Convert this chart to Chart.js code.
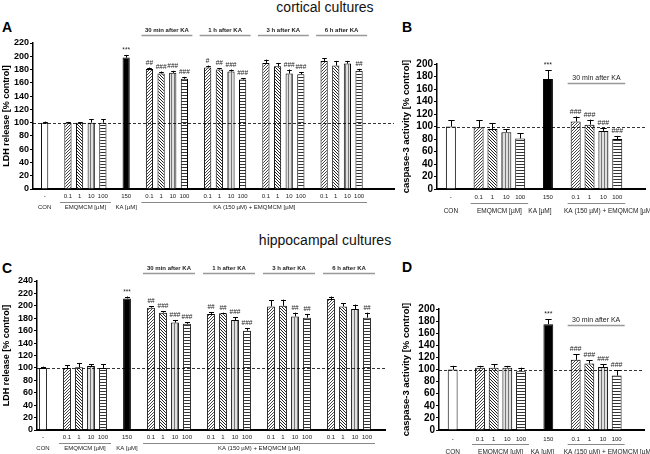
<!DOCTYPE html>
<html>
<head>
<meta charset="utf-8">
<script src="https://cdn.jsdelivr.net/npm/chart.js@4"></script>
<style>
  body { margin: 0; width: 650px; height: 454px; background: #fff; position: relative; overflow: hidden;
         font-family: "Liberation Sans", Arial, sans-serif; }
  canvas { position: absolute; }
  .title { position: absolute; left: 0; width: 650px; text-align: center; font-size: 14px; line-height: 16px; color: #111; }
  .letter { position: absolute; font-size: 14px; line-height: 14px; font-weight: bold; color: #000; }
</style>
</head>
<body>
<div class="title" style="top:-1px">cortical cultures</div>
<div class="title" style="top:232px">hippocampal cultures</div>
<div class="letter" style="left:2px;top:20px">A</div>
<div class="letter" style="left:402px;top:20px">B</div>
<div class="letter" style="left:2px;top:261px">C</div>
<div class="letter" style="left:402px;top:260px">D</div>

<canvas id="panelA" width="400" height="200" style="left:0;top:20px"></canvas>
<canvas id="panelB" width="250" height="200" style="left:400px;top:20px"></canvas>
<canvas id="panelC" width="400" height="204" style="left:0;top:250px"></canvas>
<canvas id="panelD" width="250" height="204" style="left:400px;top:250px"></canvas>

<script>
// ---- data ----
const doses = ["0.1", "1", "10", "100"];
const timesLDH = ["30 min after KA", "1 h after KA", "3 h after KA", "6 h after KA"];
const timesCasp = ["30 min after KA"];

// bar order: CON, EMQMCM 0.1..100, KA 150, then KA + EMQMCM 0.1..100 for each time point
const ldhCortical    = [100, 100, 100, 100, 100, 198, 181, 174, 175, 166, 183, 180, 177, 165, 190, 185, 174, 173, 193, 186, 189, 178];
const ldhCorticalErr = [1.5, 1, 1, 5, 5, 4, 2, 3, 3, 3, 3, 2, 3, 2, 5, 5, 6, 3, 4, 7, 4, 3];
const ldhCorticalSig = ["", "", "", "", "", "***", "##", "###", "###", "###", "#", "##", "###", "###", "", "", "###", "###", "", "", "", "##"];

const caspCortical    = [100, 99, 96, 91, 81, 176, 108, 103, 93, 80];
const caspCorticalErr = [10, 11, 9, 5, 8, 14, 8, 8, 5, 5];
const caspCorticalSig = ["", "", "", "", "", "***", "###", "###", "###", "###"];

const ldhHippo    = [100, 100, 101, 103, 100, 212, 197, 189, 173, 171, 187, 188, 177, 160, 199, 200, 183, 181, 211, 199, 195, 181];
const ldhHippoErr = [2, 4, 7, 3, 6, 3, 2, 2, 4, 3, 3, 1, 5, 4, 10, 10, 6, 6, 4, 5, 7, 8];
const ldhHippoSig = ["", "", "", "", "", "***", "##", "###", "###", "###", "##", "##", "###", "###", "", "", "##", "##", "", "", "", "##"];

const caspHippo    = [100, 103, 103, 103, 97, 175, 116, 110, 104, 90];
const caspHippoErr = [6, 3, 6, 3, 6, 8, 9, 5, 5, 9];
const caspHippoSig = ["", "", "", "", "", "***", "###", "###", "###", "###"];

const FONT = '"Liberation Sans", Arial, sans-serif';
Chart.defaults.font.family = FONT;
Chart.defaults.color = '#111';

// ---- fill patterns ----
function makePattern(kind) {
  const c = document.createElement('canvas');
  c.width = 3; c.height = 3;
  const g = c.getContext('2d');
  g.fillStyle = kind === 'v' ? '#e0e0e0' : '#fff';
  g.fillRect(0, 0, 3, 3);
  for (let x = 0; x < 3; x++) for (let y = 0; y < 3; y++) {
    let on = false;
    if (kind === '/') { on = (x + y) % 3 === 0; g.fillStyle = '#444'; }
    if (kind === '\\') { on = (x - y + 3) % 3 === 0; g.fillStyle = '#222'; }
    if (kind === 'v') { on = x === 0; g.fillStyle = '#777'; }
    if (kind === 'h') { on = y === 0; g.fillStyle = '#333'; }
    if (on) g.fillRect(x, y, 1, 1);
  }
  return g.createPattern(c, 'repeat');
}
const dosePatterns = [makePattern('/'), makePattern('\\'), makePattern('v'), makePattern('h')];

function buildCategories(times, lead, trail) {
  const labels = [], slots = [], groups = {};
  const add = (name, ticks) => {
    groups[name] = [];
    ticks.forEach(t => { groups[name].push(labels.length); slots.push(labels.length); labels.push(t); });
  };
  for (let i = 0; i < lead; i++) labels.push("");
  add("con", ["-"]); labels.push("");
  add("emq", doses); labels.push("");
  add("ka", ["150"]);
  times.forEach((t, i) => { labels.push(""); add("t" + i, doses); });
  for (let i = 0; i < trail; i++) labels.push("");
  return { labels, slots, groups };
}

function spread(cat, arr, empty) {
  const out = cat.labels.map(() => empty);
  cat.slots.forEach((s, i) => { out[s] = arr[i]; });
  return out;
}

// ---- drawing of error bars, significance, control line, group labels ----
const deco = {
  id: 'deco',
  afterDatasetsDraw(chart, args, o) {
    const { ctx, chartArea: a, scales: { x, y } } = chart;
    const ds = chart.data.datasets[0];
    const meta = chart.getDatasetMeta(0);
    ctx.save();

    // control level
    const y100 = Math.round(y.getPixelForValue(100)) + 0.5;
    ctx.setLineDash([3, 2]);
    ctx.strokeStyle = '#000';
    ctx.lineWidth = 0.8;
    ctx.beginPath(); ctx.moveTo(a.left, y100); ctx.lineTo(a.right, y100); ctx.stroke();
    ctx.setLineDash([]);

    // error bars + significance marks
    ctx.lineWidth = 1;
    ctx.textAlign = 'center';
    ctx.textBaseline = 'alphabetic';
    ctx.font = o.sigFont + 'px ' + FONT;
    meta.data.forEach((bar, i) => {
      const v = ds.data[i];
      if (v == null) return;
      const top = y.getPixelForValue(v + ds.err[i]);
      const bx = Math.round(bar.x) + 0.5;
      const hw = bar.width * 0.32;
      ctx.strokeStyle = '#000';
      ctx.beginPath();
      ctx.moveTo(bx, bar.y); ctx.lineTo(bx, top);
      ctx.moveTo(bx - hw, Math.round(top) + 0.5); ctx.lineTo(bx + hw, Math.round(top) + 0.5);
      ctx.stroke();
      if (ds.sig[i]) { ctx.fillStyle = '#222'; ctx.fillText(ds.sig[i], bar.x, top - 3); }
    });

    const gx = (cats) => [x.getPixelForValue(cats[0]), x.getPixelForValue(cats[cats.length - 1])];
    const hline = (x0, x1, yy) => {
      ctx.beginPath(); ctx.moveTo(x0, Math.round(yy) + 0.5); ctx.lineTo(x1, Math.round(yy) + 0.5); ctx.stroke();
    };

    // headers over time groups
    o.headers.forEach(h => {
      const [x0, x1] = gx(h.cats);
      const ty = h.value != null ? y.getPixelForValue(h.value) : a.top - 13;
      const ly = h.lineValue != null ? y.getPixelForValue(h.lineValue) : a.top - 8;
      ctx.fillStyle = '#222';
      ctx.textBaseline = 'middle';
      ctx.font = (h.value != null ? '7px ' : 'bold 6px ') + FONT;
      ctx.fillText(h.text, (x0 + x1) / 2, ty);
      ctx.strokeStyle = '#999';
      ctx.lineWidth = 1.3;
      hline(x0 - h.pad, x1 + h.pad, ly);
    });

    // bottom group captions
    ctx.font = o.captionFont + 'px ' + FONT;
    ctx.textBaseline = 'middle';
    o.captions.forEach(c => {
      const [x0, x1] = gx(c.cats);
      ctx.fillStyle = '#222';
      ctx.fillText(c.text, (x0 + x1) / 2 + (c.dx || 0), a.bottom + o.captionY);
      if (c.line) {
        ctx.strokeStyle = '#888';
        ctx.lineWidth = 1;
        hline(x0 - 8, x1 + 8, a.bottom + o.lineY);
      }
    });
    ctx.restore();
  }
};

function makePanel(id, spec) {
  const cat = buildCategories(spec.times, spec.lead, spec.trail);
  const fills = [];
  fills.push('#fff');
  doses.forEach((d, i) => fills.push(dosePatterns[i]));
  fills.push('#000');
  spec.times.forEach(() => doses.forEach((d, i) => fills.push(dosePatterns[i])));

  const g = cat.groups;
  const allTimes = spec.times.flatMap((t, i) => g["t" + i]);
  const headers = spec.times.map((t, i) => ({
    text: t,
    cats: spec.headerOverAll ? allTimes : g["t" + i],
    value: spec.headerValue, lineValue: spec.headerLineValue, pad: 8
  }));
  const captions = [
    { text: "CON", cats: g.con, line: false },
    { text: "EMQMCM [\u00b5M]", cats: g.emq, line: true },
    { text: "KA [\u00b5M]", cats: g.ka, line: false, dx: spec.kaDx || 0 },
    { text: "KA (150 \u00b5M) + EMQMCM [\u00b5M]", cats: allTimes, line: true, dx: spec.comboDx || 0 }
  ];

  const canvas = document.getElementById(id);
  new Chart(canvas, {
    type: 'bar',
    data: {
      labels: cat.labels,
      datasets: [{
        data: spread(cat, spec.values, null),
        err: spread(cat, spec.err, 0),
        sig: spread(cat, spec.sig, ""),
        backgroundColor: spread(cat, fills, '#fff'),
        borderColor: '#000',
        borderWidth: 1,
        borderSkipped: 'bottom',
        barPercentage: spec.barPct,
        categoryPercentage: 1
      }]
    },
    options: {
      responsive: false,
      animation: false,
      layout: { padding: { top: spec.top, right: canvas.width - spec.right, left: 0, bottom: 0 } },
      plugins: {
        legend: { display: false },
        tooltip: { enabled: false },
        deco: { headers, captions, captionFont: spec.captionFont, captionY: spec.captionY, lineY: spec.lineY, sigFont: spec.sigFont }
      },
      scales: {
        x: {
          type: 'category',
          offset: spec.offset,
          grid: { display: false, drawTicks: false },
          border: { display: true, color: '#000', width: 2 },
          ticks: { autoSkip: false, maxRotation: 0, padding: spec.tickPad, color: '#222', font: { size: 6 } },
          afterFit: s => { s.height = canvas.height - spec.bottom; }
        },
        y: {
          min: 0, max: spec.ymax,
          grid: { drawOnChartArea: false, drawTicks: true, tickLength: 3, color: '#000' },
          border: { display: true, color: '#000', width: 1.5 },
          ticks: { stepSize: 20, autoSkip: false, padding: 1, color: '#000', font: { size: spec.yFont, weight: 'bold' } },
          title: { display: true, text: spec.yTitle, color: '#000', font: { size: spec.titleFont, weight: 'bold' }, padding: { top: 1, bottom: 0 } },
          afterFit: s => { s.width = spec.left; }
        }
      }
    },
    plugins: [deco]
  });
}

makePanel('panelA', {
  values: ldhCortical, err: ldhCorticalErr, sig: ldhCorticalSig, times: timesLDH,
  yTitle: "LDH release [% control]", ymax: 220, yFont: 9, titleFont: 9, sigFont: 6.5,
  left: 33, top: 23, bottom: 169, right: 394, lead: 1, trail: 3, offset: false, barPct: 0.62,
  tickPad: 4, captionFont: 6, captionY: 18.5, lineY: 13
});
makePanel('panelB', {
  values: caspCortical, err: caspCorticalErr, sig: caspCorticalSig, times: timesCasp,
  yTitle: "caspase-3 activity [% control]", ymax: 200, yFont: 10, titleFont: 9.5, sigFont: 7,
  left: 37, top: 44, bottom: 169, right: 245, lead: 1, trail: 2, offset: false, barPct: 0.72,
  headerOverAll: true, headerValue: 178, headerLineValue: 170,
  tickPad: 5, captionFont: 6.5, captionY: 22, lineY: 14, kaDx: -8, comboDx: 12
});
makePanel('panelC', {
  values: ldhHippo, err: ldhHippoErr, sig: ldhHippoSig, times: timesLDH,
  yTitle: "LDH release [% control]", ymax: 240, yFont: 9, titleFont: 9, sigFont: 6.5,
  left: 37, top: 31, bottom: 180, right: 385, lead: 0, trail: 1, offset: true, barPct: 0.65,
  tickPad: 4, captionFont: 6, captionY: 18.5, lineY: 13
});
makePanel('panelD', {
  values: caspHippo, err: caspHippoErr, sig: caspHippoSig, times: timesCasp,
  yTitle: "caspase-3 activity [% control]", ymax: 200, yFont: 10, titleFont: 9.5, sigFont: 7,
  left: 39, top: 59, bottom: 180, right: 245, lead: 1, trail: 2, offset: false, barPct: 0.72,
  headerOverAll: true, headerValue: 181, headerLineValue: 174,
  tickPad: 6, captionFont: 6.5, captionY: 22, lineY: 14, kaDx: -6, comboDx: 12
});
</script>
</body>
</html>
